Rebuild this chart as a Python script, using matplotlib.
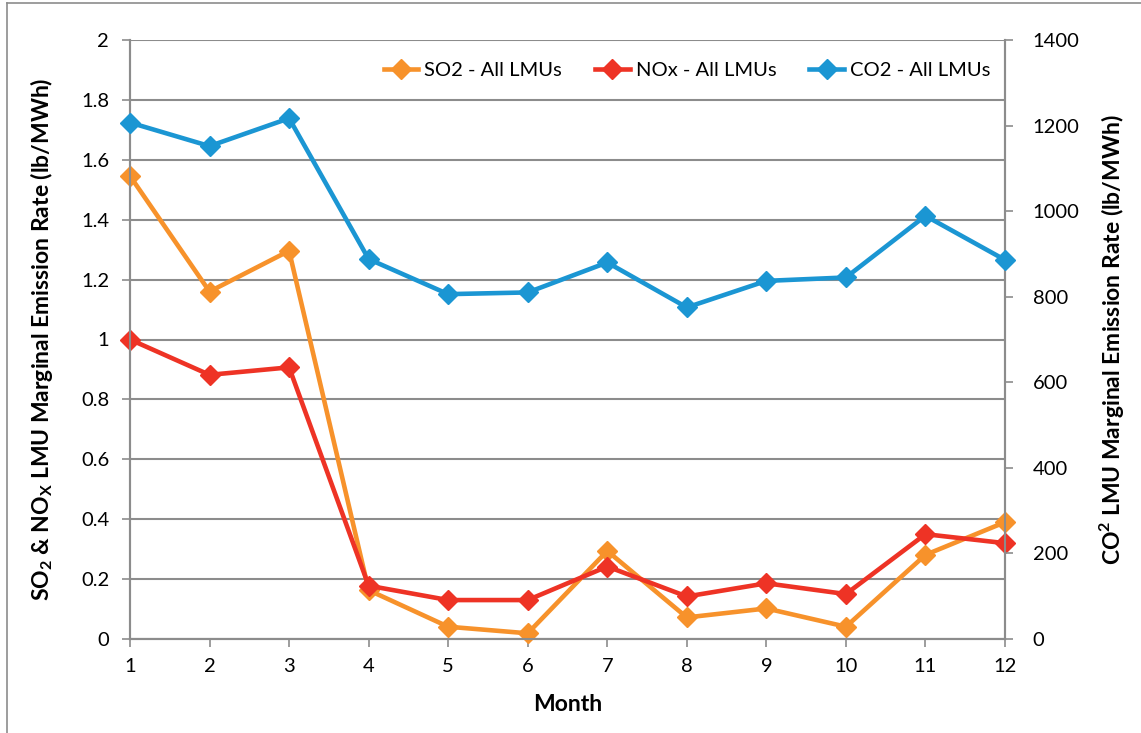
import matplotlib
matplotlib.use("Agg")
import matplotlib.pyplot as plt
from matplotlib.lines import Line2D
from matplotlib.ticker import FuncFormatter

# monthly LMU marginal emission rates (lb/MWh)
months = [1, 2, 3, 4, 5, 6, 7, 8, 9, 10, 11, 12]
so2 = [1.546, 1.160, 1.296, 0.163, 0.041, 0.019, 0.294, 0.072, 0.102, 0.041, 0.281, 0.390]
nox = [1.000, 0.882, 0.907, 0.178, 0.130, 0.130, 0.242, 0.142, 0.186, 0.150, 0.350, 0.320]
co2 = [1207, 1152, 1217, 888, 806, 810, 880, 775, 837, 845, 989, 886]

series_labels = ["SO2 - All LMUs", "NOx - All LMUs", "CO2 - All LMUs"]
left_ticks = [0, 0.2, 0.4, 0.6, 0.8, 1.0, 1.2, 1.4, 1.6, 1.8, 2.0]
right_ticks = [0, 200, 400, 600, 800, 1000, 1200, 1400]

c_so2 = "#F7922B"
c_nox = "#EE3325"
c_co2 = "#1B96D3"
grey = "#8C8C8C"

plt.rcParams["font.family"] = ["Lato", "DejaVu Sans"]
plt.rcParams["mathtext.fontset"] = "custom"
plt.rcParams["mathtext.rm"] = "Lato"
plt.rcParams["mathtext.bf"] = "Lato:bold"

fig = plt.figure(figsize=(11.41, 7.33), dpi=100)
ax = fig.add_axes([130 / 1141, 1 - 639 / 733, 875 / 1141, 599 / 733])
ax2 = ax.twinx()

lw = 3.3
ms = 10
h1, = ax.plot(months, so2, color=c_so2, lw=lw, marker="D", ms=ms, clip_on=False, zorder=3)
h2, = ax.plot(months, nox, color=c_nox, lw=lw, marker="D", ms=ms, clip_on=False, zorder=4)
h3, = ax2.plot(months, co2, color=c_co2, lw=lw, marker="D", ms=ms, clip_on=False, zorder=3)

ax.set_xlim(1, 12)
ax.set_ylim(0, 2)
ax2.set_ylim(0, 1400)
ax.set_xticks(months)
ax.set_yticks(left_ticks)
ax2.set_yticks(right_ticks)
ax.yaxis.set_major_formatter(FuncFormatter(lambda v, p: "%g" % round(v, 1)))

ax.grid(axis="y", color=grey, lw=1.5)
ax.set_axisbelow(True)

for a in (ax, ax2):
    a.spines["top"].set_visible(False)
    for s in ("left", "right", "bottom"):
        a.spines[s].set_color(grey)
        a.spines[s].set_linewidth(1.5)
    a.tick_params(colors=grey, labelcolor="black", labelsize=14.5, width=1.2, length=6)
ax.tick_params(axis="x", pad=8)
ax.tick_params(axis="y", pad=9)
ax2.tick_params(axis="y", pad=14)

ax.set_xlabel("Month", fontsize=16.5, fontweight="bold")
ax.xaxis.set_label_coords(0.5006, -0.092)
ax.set_ylabel(r"SO$_\mathbf{2}$ & NO$_\mathbf{X}$ LMU Marginal Emission Rate (lb/MWh)",
              fontsize=16.5, fontweight="bold")
ax.yaxis.set_label_coords(-0.086, 0.5)
ax2.set_ylabel(r"CO$^\mathbf{2}$ LMU Marginal Emission Rate (lb/MWh)",
               fontsize=16.5, fontweight="bold", rotation=90)
ax2.yaxis.set_label_coords(1.105, 0.5)

ax2.legend([h1, h2, h3], series_labels, loc="upper right", bbox_to_anchor=(0.983, 0.964),
           ncol=3, frameon=False, fontsize=14.5, handlelength=1.7, handletextpad=0.3,
           columnspacing=1.65, borderpad=0, borderaxespad=0)

# outer chart border (partly cropped)
fig.add_artist(Line2D([6.5 / 1141, 6.5 / 1141], [0, 1 - 2.5 / 733], transform=fig.transFigure,
                      color=grey, lw=1.2))
fig.add_artist(Line2D([6.5 / 1141, 1], [1 - 2.5 / 733, 1 - 2.5 / 733], transform=fig.transFigure,
                      color=grey, lw=1.2))

fig.savefig("out.png", dpi=100)
